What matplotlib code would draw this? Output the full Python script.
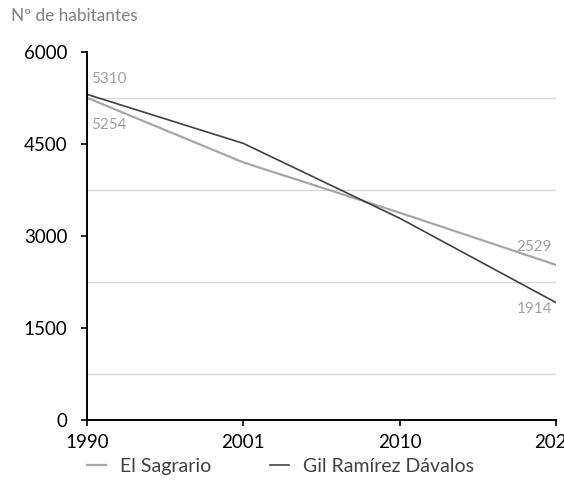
import matplotlib.pyplot as plt

plt.rcParams['font.family'] = ['Lato', 'DejaVu Sans']

years = ['1990', '2001', '2010', '2020']
sagrario = [5254, 4200, 3380, 2529]
gil_ramirez = [5310, 4510, 3290, 1914]

light = '#a6a6a6'
dark = '#404040'

fig = plt.figure(figsize=(5.64, 4.94), dpi=100)
ax = fig.add_axes([0.1543, 0.1498, 0.8316, 0.7449])

x = range(len(years))
ax.plot(x, sagrario, color=light, lw=1.6, label='El Sagrario')
ax.plot(x, gil_ramirez, color=dark, lw=1.2, label='Gil Ramírez Dávalos')

# value labels at both ends of the series
lab = dict(textcoords='offset points', color='#a0a0a0', fontsize=11, va='center')
ax.annotate(str(gil_ramirez[0]), (0, gil_ramirez[0]), xytext=(3, 11), ha='left', **lab)
ax.annotate(str(sagrario[0]), (0, sagrario[0]), xytext=(3, -19.5), ha='left', **lab)
ax.annotate(str(sagrario[-1]), (3, sagrario[-1]), xytext=(-3, 13.2), ha='right', **lab)
ax.annotate(str(gil_ramirez[-1]), (3, gil_ramirez[-1]), xytext=(-3, -4.8), ha='right', **lab)

ax.set_xlim(0, 3)
ax.set_ylim(0, 6000)
ax.set_xticks(list(x))
ax.set_xticklabels(years)
ax.set_yticks([0, 1500, 3000, 4500, 6000])
ax.set_yticks([750, 2250, 3750, 5250], minor=True)
ax.grid(axis='y', which='minor', color='#d9d9d9', lw=1)
ax.tick_params(axis='y', which='minor', length=0)
ax.tick_params(axis='both', which='major', labelsize=13.5, direction='out', length=4,
               width=1.2, color='black', labelcolor='black')
ax.tick_params(axis='y', which='major', pad=10)
ax.tick_params(axis='x', which='major', pad=6)

for side in ['top', 'right']:
    ax.spines[side].set_visible(False)
for side in ['left', 'bottom']:
    ax.spines[side].set_linewidth(1.4)
    ax.spines[side].set_color('black')

fig.text(0.02, 0.967, 'Nº de habitantes', color='#808080', fontsize=12.4, ha='left', va='center')

fig.legend(loc='center', bbox_to_anchor=(0.497, 0.056), ncol=2, frameon=False, fontsize=14,
           handlelength=1.0, handletextpad=0.7, columnspacing=3.0, labelcolor='#404040')

fig.savefig('out.png', dpi=100)
